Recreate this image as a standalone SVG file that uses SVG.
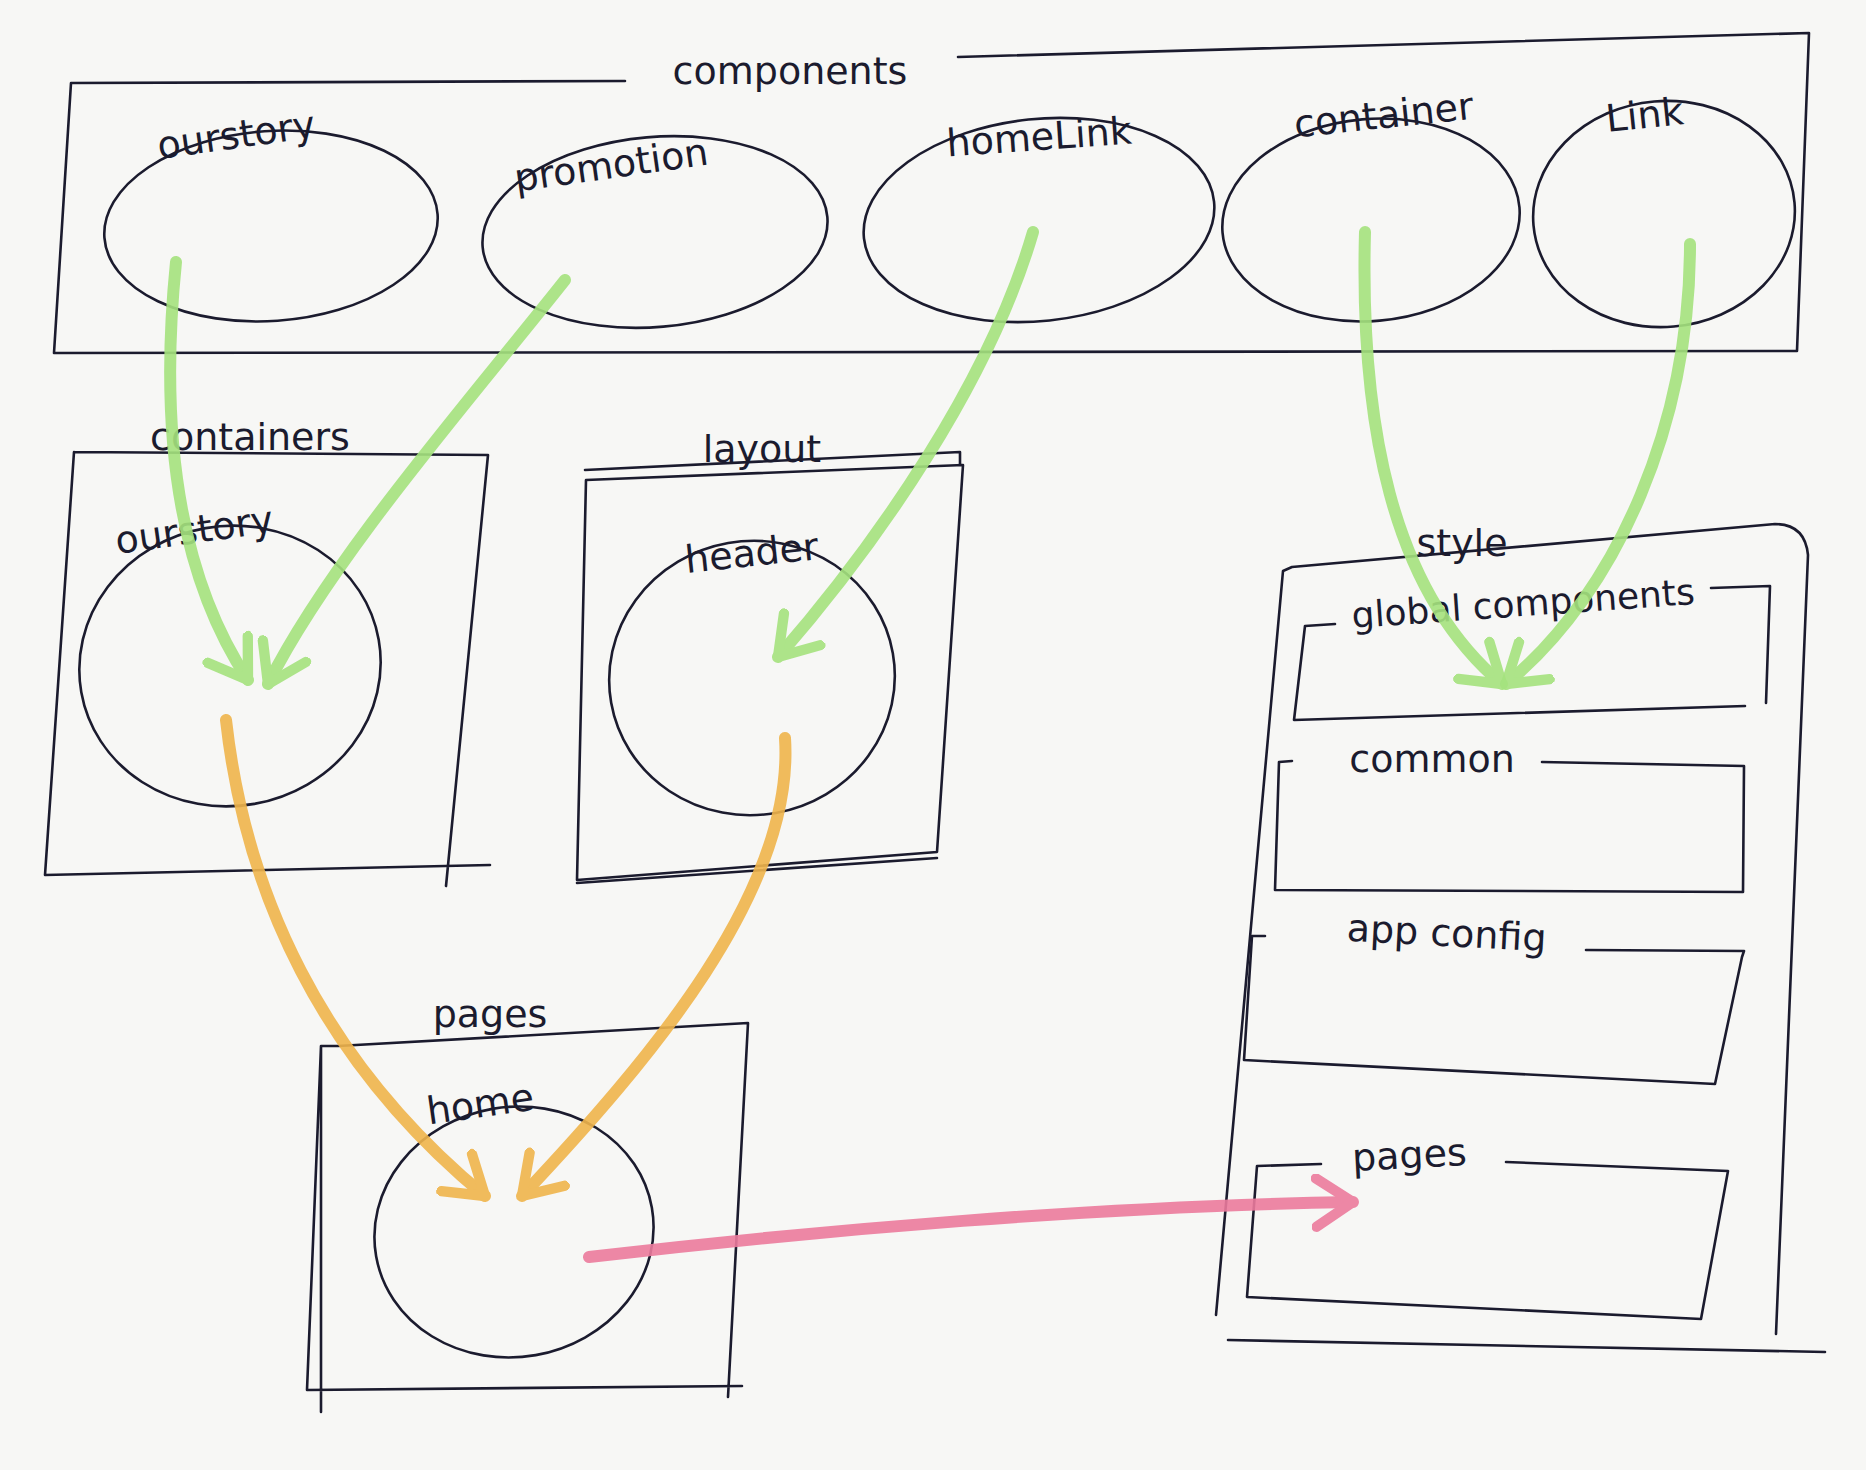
<svg xmlns="http://www.w3.org/2000/svg" width="1866" height="1470" viewBox="0 0 1866 1470">
<defs>
<style>
.ln{fill:none;stroke:#1b1b2e;stroke-width:2.6;stroke-linecap:round;stroke-linejoin:round}
.lb{font-family:"DejaVu Sans","Liberation Sans",sans-serif;font-size:38px;fill:#1b1b2e;text-anchor:middle}
.g{fill:none;stroke:#a5e37e;stroke-width:12;stroke-linecap:round;opacity:0.9}
.o{fill:none;stroke:#f0b54c;stroke-width:12;stroke-linecap:round;opacity:0.9}
.p{fill:none;stroke:#ec7b9d;stroke-width:12;stroke-linecap:round;opacity:0.9}
</style>
<marker id="mg" markerUnits="userSpaceOnUse" viewBox="0 0 40 50" refX="36" refY="25" markerWidth="46" markerHeight="58" orient="auto">
<path d="M4,4 L36,25 L4,46" fill="none" stroke="#a5e37e" stroke-width="9" stroke-linecap="round" stroke-linejoin="round"/>
</marker>
<marker id="mo" markerUnits="userSpaceOnUse" viewBox="0 0 40 50" refX="36" refY="25" markerWidth="46" markerHeight="58" orient="auto">
<path d="M4,4 L36,25 L4,46" fill="none" stroke="#f0b54c" stroke-width="9" stroke-linecap="round" stroke-linejoin="round"/>
</marker>
<marker id="mp" markerUnits="userSpaceOnUse" viewBox="0 0 40 50" refX="36" refY="25" markerWidth="46" markerHeight="58" orient="auto">
<path d="M4,4 L36,25 L4,46" fill="none" stroke="#ec7b9d" stroke-width="9" stroke-linecap="round" stroke-linejoin="round"/>
</marker>
</defs>
<rect width="1866" height="1470" fill="#f7f7f5"/>

<g id="components">
<path class="ln" d="M625,81 L71,83 L54,353 M958,57 L1809,33 L1797,351 L54,353"/>
<text class="lb" x="790" y="84">components</text>
</g>
<g id="c-ourstory">
<ellipse class="ln" cx="271" cy="226" rx="167" ry="95" transform="rotate(-4 271 226)"/>
<text class="lb" x="238" y="148" transform="rotate(-8 238 148)">ourstory</text>
</g>
<g id="c-promotion">
<ellipse class="ln" cx="655" cy="232" rx="173" ry="95" transform="rotate(-5 655 232)"/>
<text class="lb" x="613" y="178" transform="rotate(-8 613 178)">promotion</text>
</g>
<g id="c-homeLink">
<ellipse class="ln" cx="1039" cy="220" rx="176" ry="101" transform="rotate(-6 1039 220)"/>
<text class="lb" x="1040" y="150" transform="rotate(-4 1040 150)">homeLink</text>
</g>
<g id="c-container">
<ellipse class="ln" cx="1371" cy="220" rx="149" ry="101" transform="rotate(-5 1371 220)"/>
<text class="lb" x="1385" y="128" transform="rotate(-6 1385 128)">container</text>
</g>
<g id="c-Link">
<ellipse class="ln" cx="1664" cy="214" rx="131" ry="113" transform="rotate(-5 1664 214)"/>
<text class="lb" x="1646" y="128" transform="rotate(-6 1646 128)">Link</text>
</g>

<g id="containers">
<path class="ln" d="M74,452 L488,455 L446,886 M490,865 L45,875 L74,452"/>
<text class="lb" x="250" y="450">containers</text>
</g>
<g id="containers-ourstory">
<ellipse class="ln" cx="230" cy="666" rx="151" ry="140" transform="rotate(-10 230 666)"/>
<text class="lb" x="196" y="543" transform="rotate(-8 196 543)">ourstory</text>
</g>

<g id="layout">
<path class="ln" d="M586,480 L963,465 L937,852 L577,880 Z M577,883 L937,858 M585,470 L960,452 L960,465"/>
<text class="lb" x="762" y="462">layout</text>
</g>
<g id="layout-header">
<ellipse class="ln" cx="752" cy="678" rx="143" ry="137" transform="rotate(-10 752 678)"/>
<text class="lb" x="753" y="566" transform="rotate(-6 753 566)">header</text>
</g>

<g id="pages">
<path class="ln" d="M338,1046 L748,1023 L728,1397 M742,1386 L307,1390 L321,1046 L338,1046 M321,1046 L321,1412"/>
<text class="lb" x="490" y="1027">pages</text>
</g>
<g id="pages-home">
<ellipse class="ln" cx="514" cy="1232" rx="140" ry="125" transform="rotate(-10 514 1232)"/>
<text class="lb" x="482" y="1117" transform="rotate(-8 482 1117)">home</text>
</g>

<g id="style">
<path class="ln" d="M1292,567 L1775,524 Q1805,524 1808,555 L1776,1334 M1825,1352 L1228,1340 M1216,1315 L1283,571 L1292,567"/>
<text class="lb" x="1462" y="556">style</text>
</g>
<g id="style-global">
<path class="ln" d="M1335,624 L1305,626 L1294,720 L1745,706 M1711,588 L1770,586 L1766,703"/>
<text class="lb" x="1524" y="616" style="font-size:36px" transform="rotate(-4 1524 616)">global components</text>
</g>
<g id="style-common">
<path class="ln" d="M1292,761 L1279,762 L1275,890 L1743,892 L1744,766 L1542,762"/>
<text class="lb" x="1432" y="772">common</text>
</g>
<g id="style-appconfig">
<path class="ln" d="M1265,936 L1252,936 L1244,1060 L1715,1084 L1742,957 L1744,951 L1586,950"/>
<text class="lb" x="1446" y="946" transform="rotate(3 1446 946)">app config</text>
</g>
<g id="style-pages">
<path class="ln" d="M1321,1164 L1257,1166 L1247,1297 L1701,1319 L1728,1171 L1506,1162"/>
<text class="lb" x="1410" y="1168" transform="rotate(-3 1410 1168)">pages</text>
</g>

<g id="connectors">
<path class="g" marker-end="url(#mg)" d="M176,262 C160,420 175,570 248,680"/>
<path class="g" marker-end="url(#mg)" d="M565,280 C470,400 330,560 268,684"/>
<path class="g" marker-end="url(#mg)" d="M1033,232 C990,380 880,540 778,657"/>
<path class="g" marker-end="url(#mg)" d="M1365,232 C1360,420 1390,590 1502,684"/>
<path class="g" marker-end="url(#mg)" d="M1690,244 C1690,420 1620,590 1506,684"/>
<path class="o" marker-end="url(#mo)" d="M226,720 C245,890 320,1060 485,1196"/>
<path class="o" marker-end="url(#mo)" d="M785,738 C795,890 650,1060 522,1196"/>
<path class="p" marker-end="url(#mp)" d="M589,1257 C820,1230 1100,1206 1353,1202"/>
</g>
</svg>
